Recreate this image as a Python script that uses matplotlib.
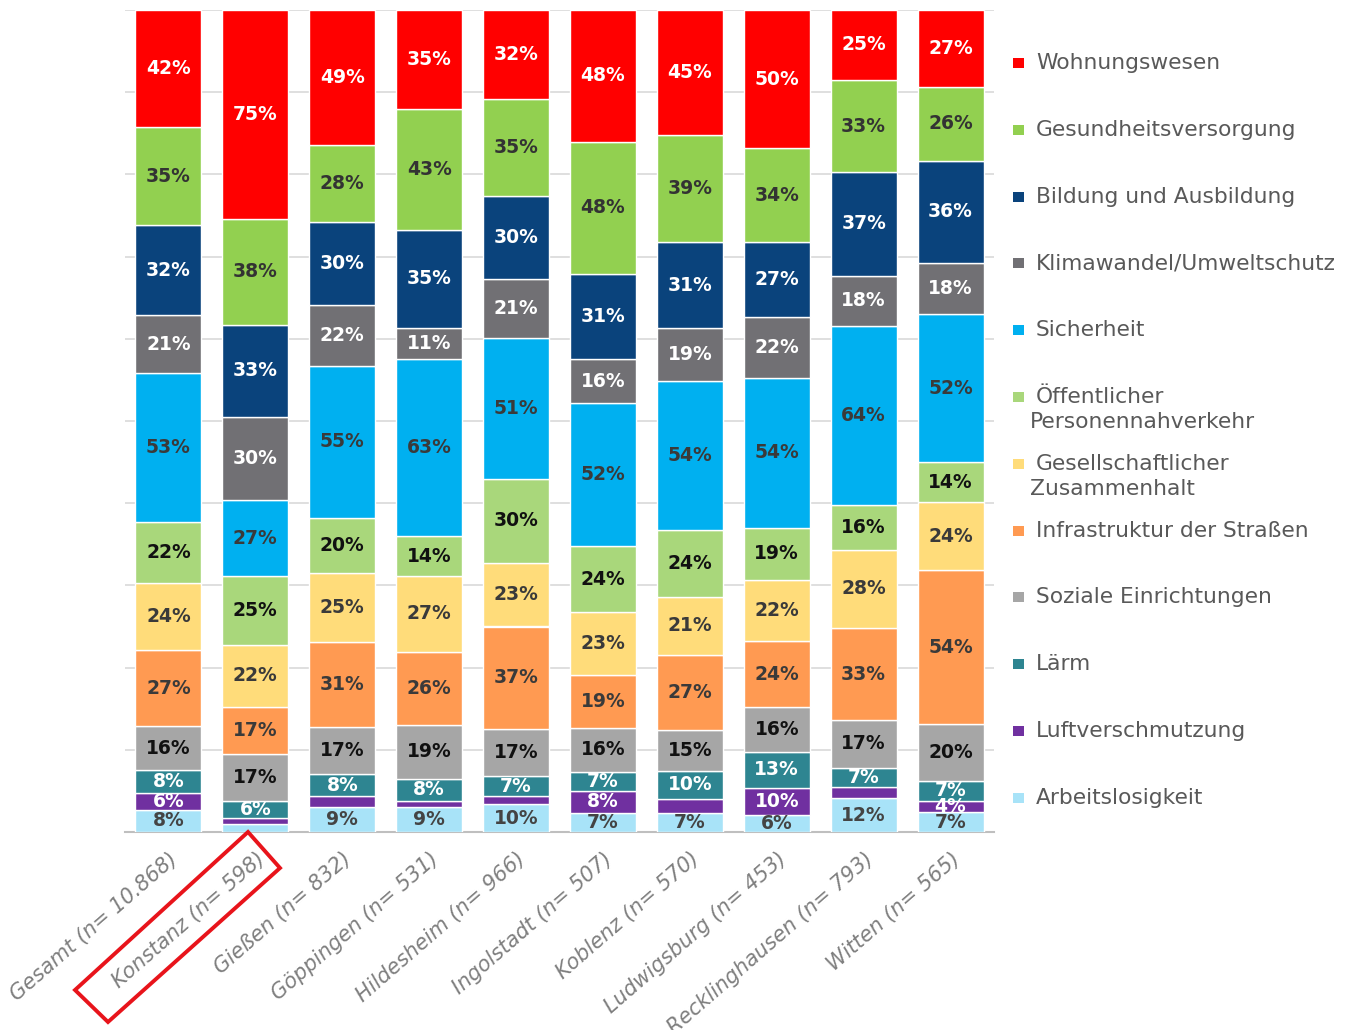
import matplotlib
matplotlib.use("Agg")
import matplotlib.pyplot as plt
from matplotlib.patches import Rectangle, Polygon
import numpy as np

categories = ["Gesamt (n= 10.868)", "Konstanz (n= 598)", "Gießen (n= 832)",
              "Göppingen (n= 531)", "Hildesheim (n= 966)", "Ingolstadt (n= 507)",
              "Koblenz (n= 570)", "Ludwigsburg (n= 453)", "Recklinghausen (n= 793)",
              "Witten (n= 565)"]

# series listed top-of-stack first (legend order)
series_names = ["Wohnungswesen", "Gesundheitsversorgung", "Bildung und Ausbildung",
                "Klimawandel/Umweltschutz", "Sicherheit",
                "Öffentlicher\nPersonennahverkehr", "Gesellschaftlicher\nZusammenhalt",
                "Infrastruktur der Straßen", "Soziale Einrichtungen", "Lärm",
                "Luftverschmutzung", "Arbeitslosigkeit"]

wohnungswesen = [42, 75, 49, 35, 32, 48, 45, 50, 25, 27]
gesundheit    = [35, 38, 28, 43, 35, 48, 39, 34, 33, 26]
bildung       = [32, 33, 30, 35, 30, 31, 31, 27, 37, 36]
klima         = [21, 30, 22, 11, 21, 16, 19, 22, 18, 18]
sicherheit    = [53, 27, 55, 63, 51, 52, 54, 54, 64, 52]
oepnv         = [22, 25, 20, 14, 30, 24, 24, 19, 16, 14]
zusammenhalt  = [24, 22, 25, 27, 23, 23, 21, 22, 28, 24]
strassen      = [27, 17, 31, 26, 37, 19, 27, 24, 33, 54]
soziale       = [16, 17, 17, 19, 17, 16, 15, 16, 17, 20]
laerm         = [8, 6, 8, 8, 7, 7, 10, 13, 7, 7]
luft          = [6, 2, 4, 2, 3, 8, 5, 10, 4, 4]
arbeit        = [8, 3, 9, 9, 10, 7, 7, 6, 12, 7]

# segments printed without a value label in the original
unlabeled = {(1, "Luftverschmutzung"), (1, "Arbeitslosigkeit"), (2, "Luftverschmutzung"),
             (3, "Luftverschmutzung"), (4, "Luftverschmutzung"), (6, "Luftverschmutzung"),
             (8, "Luftverschmutzung")}

values = [wohnungswesen, gesundheit, bildung, klima, sicherheit, oepnv, zusammenhalt,
          strassen, soziale, laerm, luft, arbeit]

colors = ["#FF0000", "#92D050", "#0A437C", "#717074", "#00B0F0", "#A9D77B",
          "#FFDC7A", "#FF9A52", "#A6A6A6", "#2E8591", "#7030A0", "#A8E3F8"]
text_colors = ["white", "#333333", "white", "white", "#3a3a3a", "#111111",
               "#3a3a3a", "#3a3a3a", "#111111", "white", "white", "#444444"]

W, H = 1354, 1030
fig = plt.figure(figsize=(W / 100, H / 100), dpi=100)
ax = fig.add_axes([125 / W, 1 - 832 / H, (994 - 125) / W, (832 - 10) / H])

data = np.array(values, dtype=float)
totals = data.sum(axis=0)
x = np.arange(len(categories))

bottom = np.zeros(len(categories))
# stack from bottom: last series first
for si in range(len(series_names) - 1, -1, -1):
    share = data[si] / totals * 100
    ax.bar(x, share, bottom=bottom, width=0.76, color=colors[si],
           edgecolor="white", linewidth=1.0, zorder=3)
    name = series_names[si]
    for ci in range(len(categories)):
        if (ci, name) in unlabeled:
            continue
        ax.text(x[ci], bottom[ci] + share[ci] / 2, f"{int(data[si, ci])}%",
                ha="center", va="center", fontsize=13.5, fontweight="bold",
                color=text_colors[si], zorder=4)
    bottom += share

ax.set_xlim(-0.5, len(categories) - 0.5)
ax.set_ylim(0, 100)
ax.set_yticks(np.arange(0, 101, 10))
ax.yaxis.grid(True, color="#D9D9D9", linewidth=1.2, zorder=0)
ax.tick_params(axis="y", length=0, labelleft=False)
ax.tick_params(axis="x", length=0, pad=12)
for s in ["top", "right", "left"]:
    ax.spines[s].set_visible(False)
ax.spines["bottom"].set_color("#BFBFBF")
ax.spines["bottom"].set_linewidth(1.5)

ax.set_xticks(x)
ax.set_xticklabels(categories, rotation=41, ha="right", va="top",
                   rotation_mode="anchor", fontsize=15, color="#7F7F7F",
                   fontstyle="italic")

# red highlight frame around the Konstanz label (figure pixel positions)
frame_px = [(75, 990), (108, 1022), (280, 868), (248, 832)]
fig.patches.append(Polygon([(px / W, 1 - py / H) for px, py in frame_px], closed=True,
                           transform=fig.transFigure, fill=False, edgecolor="#E8141B",
                           linewidth=2.8))

# legend drawn manually
leg_y0 = 63
leg_step = 66.8
for i, name in enumerate(series_names):
    yc = leg_y0 + i * leg_step
    fig.patches.append(Rectangle(((1013) / W, 1 - (yc + 5) / H), 11 / W, 10 / H,
                                 transform=fig.transFigure, facecolor=colors[i],
                                 edgecolor="none"))
    lines = name.split("\n")
    fig.text(1036 / W, 1 - yc / H, lines[0], fontsize=15.7, color="#595959",
             ha="left", va="center")
    if len(lines) > 1:
        fig.text(1030 / W, 1 - (yc + 25) / H, lines[1], fontsize=15.7, color="#595959",
                 ha="left", va="center")

fig.savefig("out.png", dpi=100)
